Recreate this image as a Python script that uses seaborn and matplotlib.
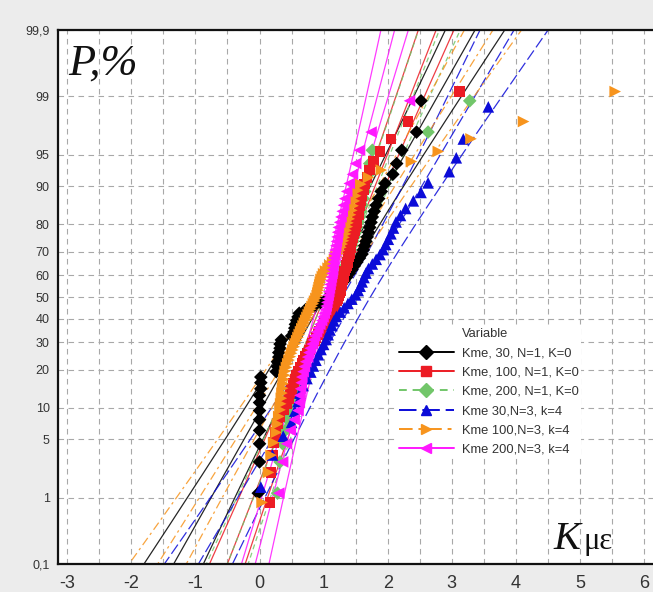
import numpy as np
import pandas as pd
import matplotlib
matplotlib.use("Agg")
import matplotlib.pyplot as plt
import seaborn as sns
from matplotlib.lines import Line2D
from statistics import NormalDist

# ---- data: K values of each sample (sorted ascending) ----
series_names = [
    "Kme, 30, N=1, K=0",
    "Kme, 100, N=1, K=0",
    "Kme, 200, N=1, K=0",
    "Kme 30,N=3, k=4",
    "Kme 100,N=3, k=4",
    "Kme 200,N=3, k=4",
]

kme30_n1 = [
    -0.02, 0.0, 0.0, 0.0, 0.0, 0.0, 0.02, 0.0, 0.0, 0.02, 0.02,
    0.26, 0.28, 0.28, 0.30, 0.30, 0.32, 0.32, 0.34,
    0.50, 0.54, 0.55, 0.56, 0.58, 0.60, 0.62,
    0.72, 0.85, 0.95, 1.05, 1.12,
    1.18, 1.22, 1.27, 1.32, 1.36,
    1.40, 1.44, 1.48, 1.52, 1.56, 1.60,
    1.62, 1.64, 1.66, 1.68, 1.70, 1.72,
    1.74, 1.76, 1.79, 1.82, 1.86,
    1.90, 1.96, 2.08, 2.14, 2.22, 2.45, 2.52,
]

kme100_n1 = [
    0.20, 0.18, 0.16, 0.22, 0.25, 0.28, 0.32, 0.38, 0.42, 0.46,
    0.48, 0.50, 0.53, 0.56, 0.58, 0.60, 0.63, 0.66, 0.69, 0.72,
    0.75, 0.78, 0.80, 0.83, 0.86, 0.88, 0.91, 0.94, 0.96, 0.99,
    1.01, 1.04, 1.06, 1.09, 1.11, 1.14, 1.16, 1.18, 1.20, 1.22,
    1.24, 1.25, 1.26, 1.27, 1.28, 1.29, 1.30, 1.31, 1.32, 1.33,
    1.35, 1.36, 1.37, 1.38, 1.39, 1.40, 1.41, 1.42, 1.43, 1.44,
    1.45, 1.47, 1.48, 1.50, 1.51, 1.52, 1.54, 1.55, 1.57, 1.58,
    1.60, 1.62, 1.64, 1.68, 1.72, 1.78, 1.88, 2.05, 2.32, 3.12,
]

kme200_n1 = [
    0.28, 0.32, 0.36, 0.40, 0.44, 0.47,
    0.50, 0.53, 0.56, 0.59, 0.62, 0.65,
    0.68, 0.71, 0.74, 0.77, 0.80, 0.83,
    0.86, 0.89, 0.92, 0.95, 0.98, 1.01,
    1.04, 1.07, 1.10, 1.12, 1.14, 1.16,
    1.18, 1.20, 1.22, 1.24, 1.26, 1.28,
    1.30, 1.32, 1.34, 1.36, 1.38, 1.40,
    1.42, 1.44, 1.46, 1.48, 1.50, 1.52,
    1.54, 1.56, 1.58, 1.60, 1.62, 1.64,
    1.66, 1.70, 1.72, 1.76, 2.63, 3.28,
]

kme30_n3 = [
    0.02, 0.20, 0.37, 0.50, 0.55, 0.60, 0.63, 0.68, 0.74, 0.80,
    0.84, 0.88, 0.92, 0.96, 1.00, 1.04, 1.07, 1.10, 1.13, 1.16,
    1.20, 1.26, 1.32, 1.38, 1.44, 1.50, 1.54, 1.57, 1.60, 1.63,
    1.66, 1.70, 1.76, 1.82, 1.88, 1.93, 1.97, 2.01, 2.05, 2.09,
    2.13, 2.20, 2.28, 2.40, 2.52, 2.63, 2.96, 3.07, 3.18, 3.57,
]

kme100_n3 = [
    0.04, 0.14, 0.18, 0.22, 0.26, 0.28, 0.30, 0.32, 0.33, 0.34,
    0.35, 0.36, 0.37, 0.38, 0.39, 0.40, 0.42, 0.44, 0.46, 0.48,
    0.50, 0.52, 0.54, 0.56, 0.58, 0.60, 0.62, 0.64, 0.66, 0.68,
    0.70, 0.72, 0.74, 0.76, 0.78, 0.80, 0.82, 0.84, 0.86, 0.88,
    0.90, 0.91, 0.92, 0.93, 0.94, 0.95, 0.96, 0.98, 1.00, 1.03,
    1.07, 1.10, 1.14, 1.17, 1.20, 1.23, 1.25, 1.27, 1.29, 1.31,
    1.32, 1.34, 1.35, 1.37, 1.38, 1.40, 1.42, 1.44, 1.46, 1.48,
    1.50, 1.53, 1.58, 1.70, 1.90, 2.37, 2.79, 3.30, 4.12, 5.55,
]

kme200_n3 = [
    0.30, 0.36, 0.42, 0.48, 0.54, 0.60, 0.62, 0.63, 0.64, 0.65,
    0.66, 0.68, 0.70, 0.72, 0.75, 0.77, 0.79, 0.82, 0.84, 0.86,
    0.89, 0.91, 0.94, 0.97, 0.99, 1.01, 1.03, 1.04, 1.05, 1.06,
    1.07, 1.08, 1.09, 1.10, 1.11, 1.12, 1.13, 1.14, 1.14, 1.15,
    1.16, 1.17, 1.18, 1.19, 1.20, 1.21, 1.22, 1.23, 1.25, 1.27,
    1.29, 1.31, 1.33, 1.36, 1.40, 1.45, 1.50, 1.56, 1.74, 2.34,
]

prob_ticks = [0.1, 1, 5, 10, 20, 30, 40, 50, 60, 70, 80, 90, 95, 99, 99.9]
prob_labels = ["0,1", "1", "5", "10", "20", "30", "40", "50", "60",
               "70", "80", "90", "95", "99", "99,9"]
x_ticks = [-3, -2, -1, 0, 1, 2, 3, 4, 5, 6]

# ---- styles ----
colors = ["#000000", "#ec1c24", "#72c66a", "#0b0bd8", "#f7941d", "#ff18ff"]
markers = ["D", "s", "D", "^", ">", "<"]
marker_sizes = [48, 58, 48, 70, 70, 70]
dashes = ["", "", (4, 3), (9, 3), (7, 3, 2, 3), ""]
# stacking of the point clouds (first = bottom)
draw_order = [2, 0, 1, 3, 4, 5]

nd = NormalDist()
samples = [kme30_n1, kme100_n1, kme200_n1, kme30_n3, kme100_n3, kme200_n3]

# probability-plot positions (median ranks) and normal fits with 95% bands
pts, lines = {}, []
zline = np.linspace(-3.4, 3.4, 240)
for idx, (name, vals, ms) in enumerate(zip(series_names, samples, marker_sizes)):
    v = np.sort(np.asarray(vals, dtype=float))
    n = len(v)
    p = (np.arange(1, n + 1) - 0.3) / (n + 0.4)
    z = np.array([nd.inv_cdf(q) for q in p])
    pts[idx] = pd.DataFrame({"K": v, "z": z, "series": name, "size": ms})
    mu, sd = v.mean(), v.std(ddof=1)
    fit = mu + sd * zline
    half = 1.96 * sd * np.sqrt((1 + zline ** 2 / 2) / n)
    for kind, xx in (("lower", fit - half), ("fit", fit), ("upper", fit + half)):
        lines.append(pd.DataFrame({"K": xx, "z": zline, "series": name, "kind": kind}))
pts = pd.concat([pts[i] for i in draw_order], ignore_index=True)
lines = pd.concat(lines, ignore_index=True)

palette = dict(zip(series_names, colors))
marker_map = dict(zip(series_names, markers))
dash_map = dict(zip(series_names, dashes))

# ---- figure ----
sns.set_theme(style="white")
plt.rcParams["font.family"] = ["Liberation Sans", "DejaVu Sans"]

fig = plt.figure(figsize=(6.53, 5.92), dpi=100, facecolor="#ececec")
ax = fig.add_axes([58 / 653, 28 / 592, 595 / 653, 534 / 592])
ax.set_facecolor("white")

sns.lineplot(data=lines, x="K", y="z", hue="series", style="series",
             units="kind", estimator=None, sort=False, palette=palette,
             dashes=dash_map, linewidth=0.9, alpha=0.85, legend=False,
             ax=ax, zorder=2)
sns.scatterplot(data=pts, x="K", y="z", hue="series", style="series",
                hue_order=series_names, style_order=series_names,
                markers=marker_map, palette=palette, size="size",
                sizes=(min(marker_sizes), max(marker_sizes)), linewidth=0,
                legend=False, ax=ax, zorder=3)

zlim = nd.inv_cdf(0.999)
ax.set_ylim(-zlim, zlim)
ax.set_xlim(-3.145, 6.14)

ax.set_yticks([nd.inv_cdf(t / 100) for t in prob_ticks])
ax.set_yticklabels(prob_labels, fontsize=9, color="#333333")
ax.set_xticks(x_ticks)
ax.set_xticklabels([str(t) for t in x_ticks], fontsize=13, color="#333333")
ax.set_xticks(np.arange(-2.5, 6.0, 1.0), minor=True)
ax.tick_params(axis="y", which="major", direction="out", length=4,
               width=1, color="#333333", pad=2)
ax.tick_params(axis="x", which="major", direction="out", length=4,
               width=1, color="#333333", pad=4)
ax.tick_params(axis="x", which="minor", direction="out", length=2,
               width=0.8, color="#333333")
ax.set_xlabel("")
ax.set_ylabel("")

grid_kw = dict(color="#a8a8a8", linestyle=(0, (5, 4)), linewidth=0.8)
ax.grid(True, axis="x", which="both", **grid_kw)
ax.grid(True, axis="y", which="major", **grid_kw)
ax.set_axisbelow(True)

for side in ("left", "bottom", "top"):
    ax.spines[side].set_visible(True)
    ax.spines[side].set_color("#111111")
    ax.spines[side].set_linewidth(1.6)
ax.spines["right"].set_visible(False)

# axis captions inside the plot
ax.text(0.017, 0.916, "P,%", transform=ax.transAxes, fontsize=32,
        family="Liberation Serif", style="italic", color="#111111",
        ha="left", va="baseline")
ax.text(0.832, 0.028, "K", transform=ax.transAxes, fontsize=29,
        family="Liberation Serif", style="italic", color="#111111",
        ha="left", va="baseline")
ax.text(0.884, 0.028, "με", transform=ax.transAxes, fontsize=22,
        family="Liberation Serif", color="#111111",
        ha="left", va="baseline")

# legend
handles = [Line2D([], [], color="none", label="Variable")]
for name, c, m, d in zip(series_names, colors, markers, dashes):
    ls = "-" if d == "" else (0, d)
    handles.append(Line2D([], [], color=c, marker=m, markersize=7.5,
                          linestyle=ls, linewidth=1.4, label=name))
leg = ax.legend(handles=handles, loc="upper left",
                bbox_to_anchor=(0.568, 0.446), frameon=True,
                facecolor="white", edgecolor="none", framealpha=1,
                fontsize=9.3, handlelength=4.3, handletextpad=0.6,
                labelspacing=0.55, borderpad=0.2, borderaxespad=0)
for t in leg.get_texts():
    t.set_color("#333333")
leg.set_zorder(5)

fig.savefig("out.png", dpi=100, facecolor=fig.get_facecolor())
